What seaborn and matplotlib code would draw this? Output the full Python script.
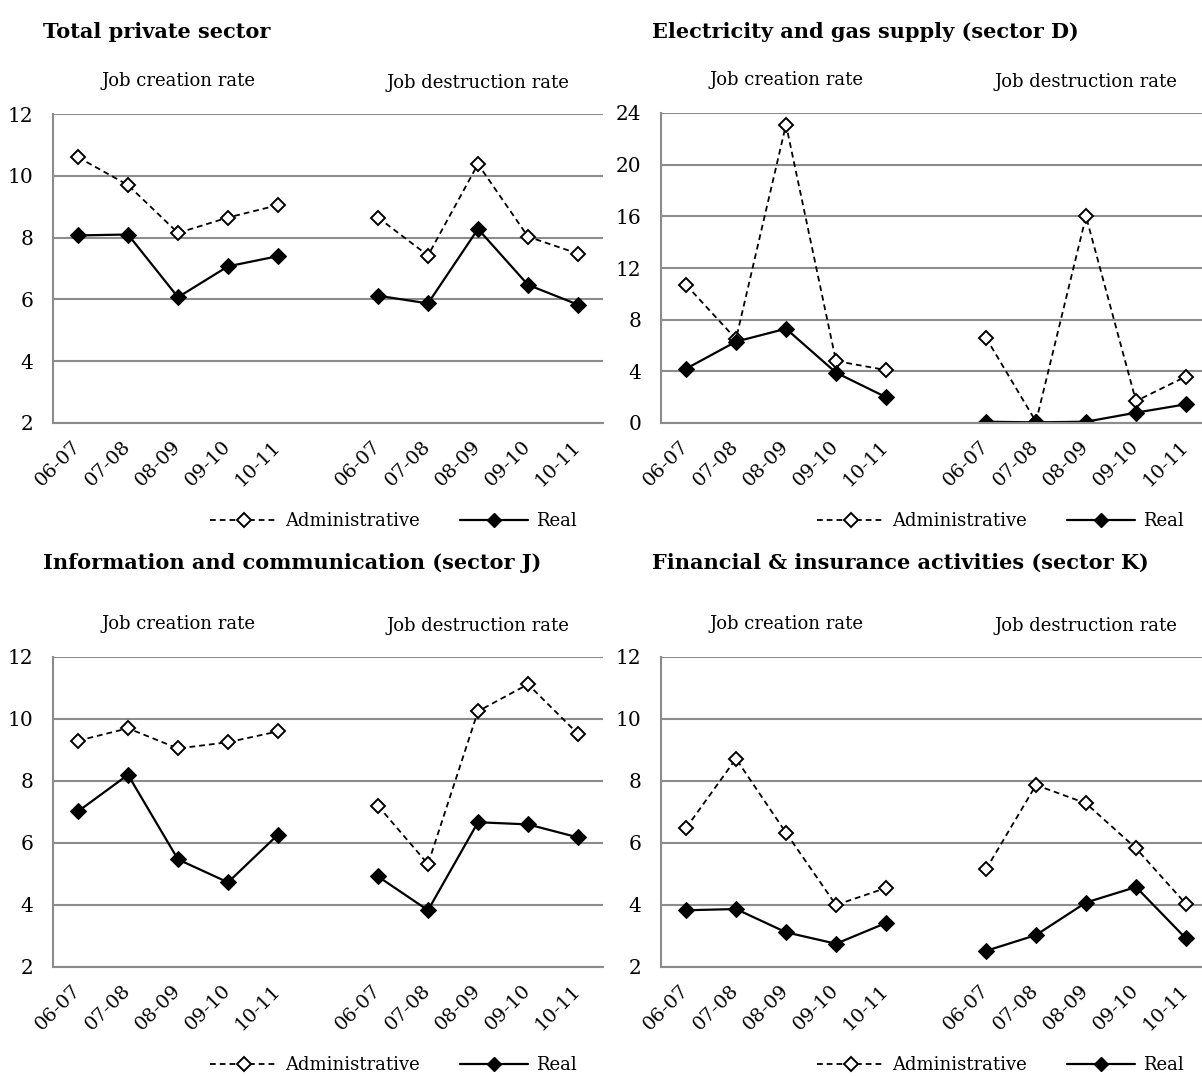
import numpy as np
import pandas as pd
import matplotlib
matplotlib.use("Agg")
import matplotlib.pyplot as plt
from matplotlib.lines import Line2D
import seaborn as sns

# category labels per block (creation block, gap, destruction block)
periods = ["06-07", "07-08", "08-09", "09-10", "10-11"]
blocks = ["Job creation rate", "Job destruction rate"]

# Total private sector
total_admin_cre = [10.6, 9.7, 8.15, 8.65, 9.05]
total_real_cre = [8.07, 8.1, 6.07, 7.07, 7.4]
total_admin_des = [8.65, 7.42, 10.38, 8.03, 7.48]
total_real_des = [6.12, 5.87, 8.28, 6.47, 5.83]

# Electricity and gas supply (sector D)
elec_admin_cre = [10.7, 6.5, 23.1, 4.8, 4.1]
elec_real_cre = [4.2, 6.3, 7.3, 3.9, 2.0]
elec_admin_des = [6.6, 0.1, 16.0, 1.7, 3.6]
elec_real_des = [0.1, 0.05, 0.1, 0.8, 1.45]

# Information and communication (sector J)
info_admin_cre = [9.3, 9.7, 9.05, 9.25, 9.6]
info_real_cre = [7.02, 8.2, 5.47, 4.73, 6.27]
info_admin_des = [7.2, 5.32, 10.25, 11.12, 9.52]
info_real_des = [4.92, 3.83, 6.67, 6.6, 6.18]

# Financial & insurance activities (sector K)
fin_admin_cre = [6.48, 8.72, 6.33, 4.0, 4.55]
fin_real_cre = [3.83, 3.87, 3.12, 2.75, 3.42]
fin_admin_des = [5.15, 7.87, 7.28, 5.83, 4.03]
fin_real_des = [2.52, 3.03, 4.08, 4.58, 2.92]

panels = [
    ("Total private sector", total_admin_cre, total_real_cre, total_admin_des, total_real_des, (2, 12), [2, 4, 6, 8, 10, 12]),
    ("Electricity and gas supply (sector D)", elec_admin_cre, elec_real_cre, elec_admin_des, elec_real_des, (0, 24), [0, 4, 8, 12, 16, 20, 24]),
    ("Information and communication (sector J)", info_admin_cre, info_real_cre, info_admin_des, info_real_des, (2, 12), [2, 4, 6, 8, 10, 12]),
    ("Financial & insurance activities (sector K)", fin_admin_cre, fin_real_cre, fin_admin_des, fin_real_des, (2, 12), [2, 4, 6, 8, 10, 12]),
]

sns.set_theme(style="white")
plt.rcParams["font.family"] = ["DejaVu Serif"]
plt.rcParams["text.color"] = "black"
plt.rcParams["xtick.color"] = "black"
plt.rcParams["ytick.color"] = "black"

GRID = "#8c8c8c"
W, H = 1202, 1076
fig = plt.figure(figsize=(W / 100, H / 100), dpi=100)

# axes boxes in pixels: left, top, right, bottom
boxes = [(53, 114, 603, 423), (661, 113, 1202, 423), (53, 657, 603, 967), (661, 657, 1202, 967)]
title_pos = [(43, 32), (652, 32), (43, 563), (652, 563)]
legend_cx = [393, 1000, 393, 1000]


def build_frame(admin_cre, real_cre, admin_des, real_des):
    rows = []
    for series, cre, des in [("Administrative", admin_cre, admin_des), ("Real", real_cre, real_des)]:
        for i, p in enumerate(periods):
            rows.append({"pos": i, "value": cre[i], "series": series, "block": blocks[0]})
            rows.append({"pos": i + 6, "value": des[i], "series": series, "block": blocks[1]})
    return pd.DataFrame(rows)


for k, (title, a_c, r_c, a_d, r_d, ylim, yticks) in enumerate(panels):
    l, t, r, b = boxes[k]
    ax = fig.add_axes([l / W, 1 - b / H, (r - l) / W, (b - t) / H])
    df = build_frame(a_c, r_c, a_d, r_d)

    sns.lineplot(data=df[df.series == "Administrative"], x="pos", y="value", units="block",
                 estimator=None, color="black", linestyle=(0, (3.2, 2.2)), linewidth=1.3,
                 marker="D", markersize=7.5, markerfacecolor="white", markeredgecolor="black",
                 markeredgewidth=1.4, ax=ax)
    sns.lineplot(data=df[df.series == "Real"], x="pos", y="value", units="block",
                 estimator=None, color="black", linewidth=1.6,
                 marker="D", markersize=8, markerfacecolor="black", markeredgecolor="black", ax=ax)

    ax.set_ylim(*ylim)
    ax.set_yticks(yticks)
    ax.set_xlim(-0.5, -0.5 + (r - l) / 50.0)
    ax.set_xticks(range(11))
    ax.set_xticklabels(periods + [""] + periods, rotation=45, ha="right",
                       rotation_mode="anchor", fontsize=14)
    ax.tick_params(axis="x", length=6, width=1.2, color=GRID, pad=9, direction="out")
    ax.tick_params(axis="y", length=6, width=1.2, color=GRID, pad=8, labelsize=14.5, direction="out")
    ax.set_xlabel("")
    ax.set_ylabel("")
    ax.grid(axis="y", color=GRID, linewidth=1.5)
    ax.set_axisbelow(True)
    for side in ["top", "right"]:
        ax.spines[side].set_visible(False)
    for side in ["left", "bottom"]:
        ax.spines[side].set_color(GRID)
        ax.spines[side].set_linewidth(1.5)
    for lab in ax.get_xticklabels():
        lab.set_va("center")

    # block headings
    trans = ax.get_xaxis_transform()
    ax.text(2, 1 + 33 / (b - t), blocks[0], transform=trans, ha="center", va="center", fontsize=13)
    ax.text(8, 1 + 31 / (b - t), blocks[1], transform=trans, ha="center", va="center", fontsize=13)

    # panel title
    tx, ty = title_pos[k]
    fig.text(tx / W, 1 - ty / H, title, ha="left", va="center", fontsize=15, fontweight="bold")

    handles = [
        Line2D([], [], color="black", linestyle=(0, (3.2, 2.2)), linewidth=1.3, marker="D",
               markersize=7, markerfacecolor="white", markeredgewidth=1.4),
        Line2D([], [], color="black", linewidth=1.6, marker="D", markersize=7.5),
    ]
    ax.legend(handles, ["Administrative", "Real"], loc="center",
              bbox_to_anchor=((legend_cx[k] - l) / (r - l), -98 / (b - t)),
              ncol=2, frameon=False, fontsize=13, handlelength=3.8, columnspacing=2.2,
              handletextpad=0.4)

fig.savefig("out.png", dpi=100)
